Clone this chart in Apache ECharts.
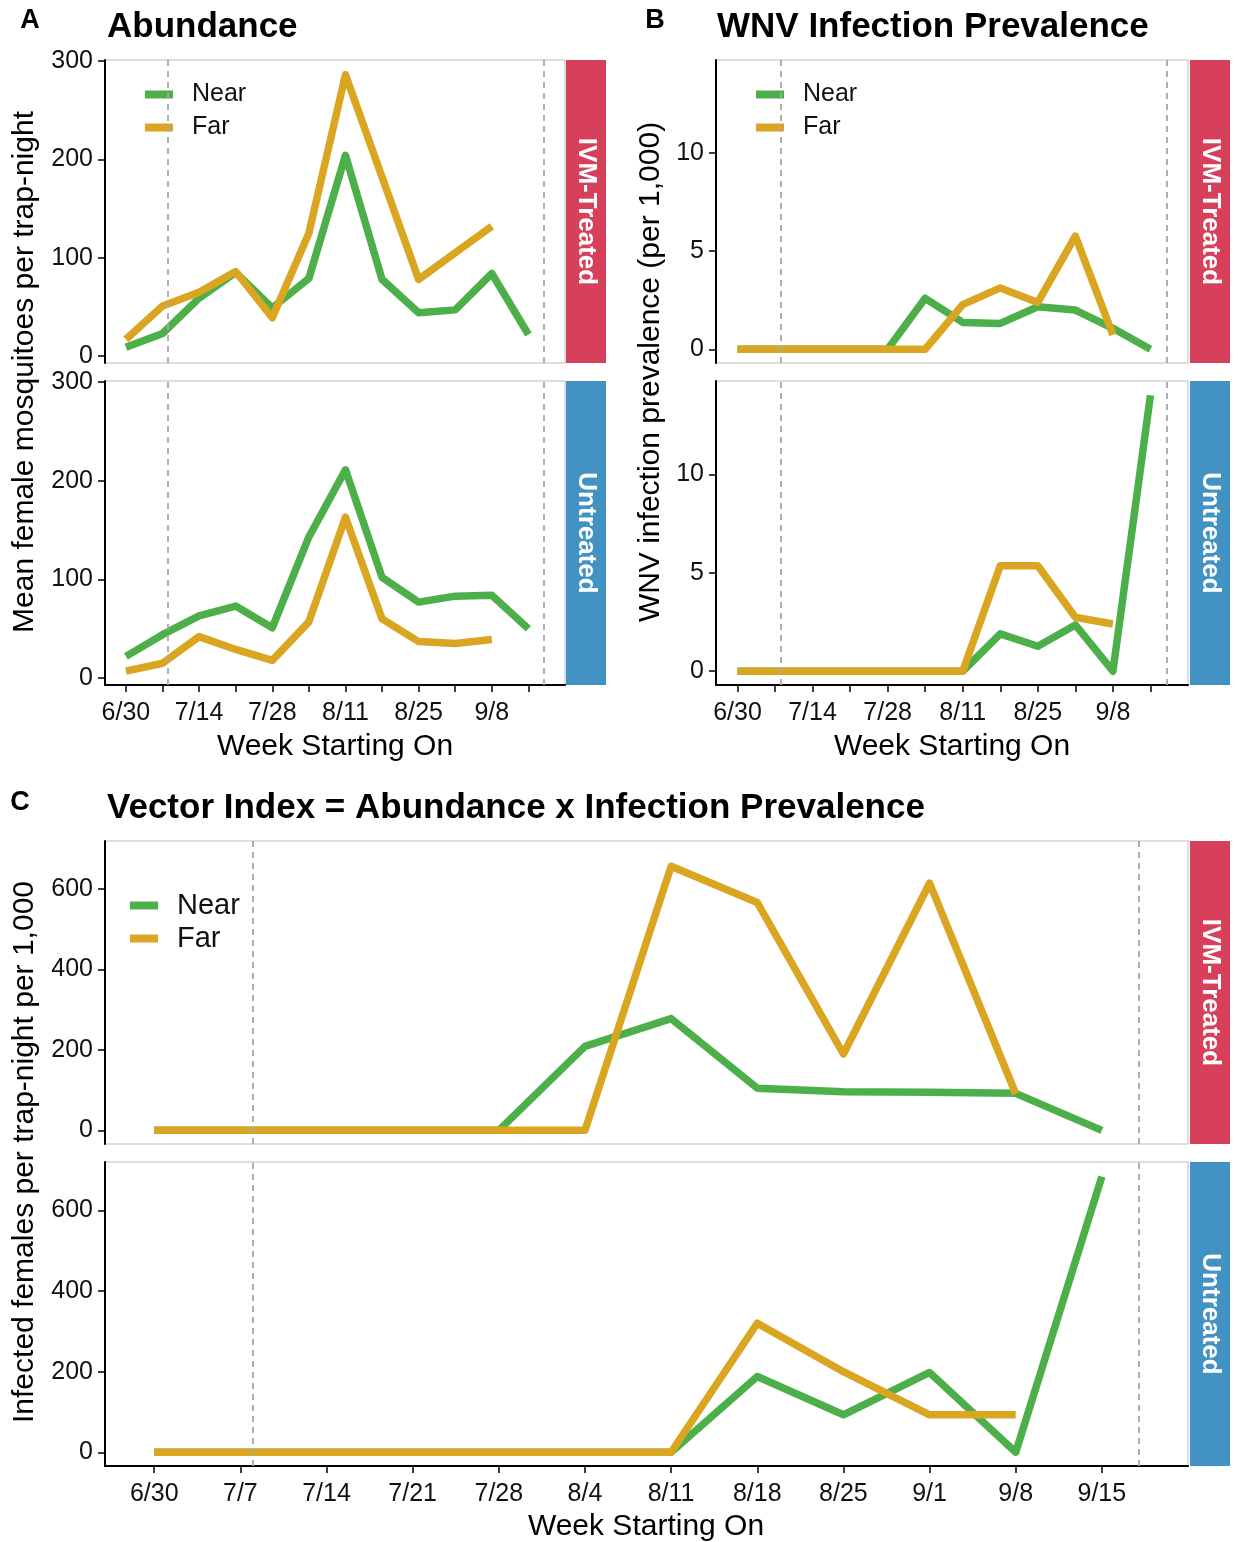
<!DOCTYPE html>
<html>
<head>
<meta charset="utf-8">
<script src="https://cdn.jsdelivr.net/npm/echarts@6/dist/echarts.min.js"></script>
<style>
html,body{margin:0;padding:0;background:#fff;}
#chart{width:1238px;height:1542px;}
</style>
</head>
<body>
<div id="chart"></div>
<script>
// ---- data ----
const weeks = ['6/30','7/7','7/14','7/21','7/28','8/4','8/11','8/18','8/25','9/1','9/8','9/15'];
const seriesNames = ['Near','Far'];
const facetNames = ['IVM-Treated','Untreated'];
const refDays = [8, 80]; // dashed reference lines (days after 6/30)

const abundTreatedNear   = [9, 23, 59, 85, 49, 79, 204, 78, 44, 47, 84, 22];
const abundTreatedFar    = [17, 51, 65, 86, 39, 125, 286, 182, 78, 105, 132, null];
const abundUntreatedNear = [22, 44, 63, 73, 51, 143, 211, 102, 77, 83, 84, 50];
const abundUntreatedFar  = [7, 15, 42, 29, 18, 57, 163, 60, 37, 35, 39, null];

const prevTreatedNear    = [0, 0, 0, 0, 0, 2.6, 1.37, 1.32, 2.17, 2.0, 1.07, 0];
const prevTreatedFar     = [0, 0, 0, 0, 0, 0, 2.28, 3.13, 2.39, 5.77, 0.73, null];
const prevUntreatedNear  = [0, 0, 0, 0, 0, 0, 0, 1.9, 1.27, 2.35, 0, 14.03];
const prevUntreatedFar   = [0, 0, 0, 0, 0, 0, 0, 5.36, 5.36, 2.74, 2.4, null];

const vecTreatedNear     = [0, 0, 0, 0, 0, 209, 278, 105, 96, 95, 92, 0];
const vecTreatedFar      = [0, 0, 0, 0, 0, 0, 657, 567, 190, 615, 91, null];
const vecUntreatedNear   = [0, 0, 0, 0, 0, 0, 0, 188, 93, 198, 0, 684];
const vecUntreatedFar    = [0, 0, 0, 0, 0, 0, 0, 320, 200, 93, 93, null];

const abundTicks = [0, 100, 200, 300];
const prevTicks  = [0, 5, 10];
const vecTicks   = [0, 200, 400, 600];

// ---- style ----
const FONT = '"Liberation Sans", Arial, sans-serif';
const GREEN = '#4DAF4A', GOLD = '#DAA520';
const RED = '#D7405A', BLUE = '#4292C4';
const TXT = '#111';

const allWeekVals = weeks.map((w, i) => i * 7);
const everyOther = allWeekVals.filter((v, i) => i % 2 === 0 && i < 11);

function toXY(arr) {
  const out = [];
  arr.forEach((v, i) => { if (v !== null) out.push([i * 7, v]); });
  return out;
}

const grids = [
  {left: 105, top: 60,   width: 460,  height: 303},
  {left: 105, top: 381,  width: 460,  height: 304},
  {left: 716, top: 60,   width: 472,  height: 303},
  {left: 716, top: 381,  width: 472,  height: 304},
  {left: 105, top: 841,  width: 1083, height: 303},
  {left: 105, top: 1162, width: 1083, height: 304}
].map(g => Object.assign({show: true, borderColor: '#d4d4d4', borderWidth: 1.5, backgroundColor: '#fff', containLabel: false, outerBoundsMode: 'none'}, g));

function xAxis(gi, bottom, labelVals) {
  return {
    type: 'value', gridIndex: gi, min: -4, max: 84,
    splitLine: {show: false},
    axisLine: {show: bottom, onZero: false, lineStyle: {color: '#000', width: 2}},
    axisTick: {show: bottom, length: 7, lineStyle: {color: '#000', width: 1.5}, customValues: allWeekVals},
    axisLabel: {show: bottom, customValues: labelVals, margin: 16, color: TXT, fontSize: 25, fontFamily: FONT,
      formatter: v => weeks[Math.round(v / 7)]}
  };
}
function yAxis(gi, min, max, ticks) {
  return {
    type: 'value', gridIndex: gi, min: min, max: max,
    splitLine: {show: false},
    axisLine: {show: true, onZero: false, lineStyle: {color: '#000', width: 2}},
    axisTick: {show: true, length: 7, lineStyle: {color: '#000', width: 1.5}, customValues: ticks},
    axisLabel: {show: true, customValues: ticks, margin: 12, color: TXT, fontSize: 25, fontFamily: FONT}
  };
}

const xAxes = [
  xAxis(0, false, everyOther), xAxis(1, true, everyOther),
  xAxis(2, false, everyOther), xAxis(3, true, everyOther),
  xAxis(4, false, allWeekVals), xAxis(5, true, allWeekVals)
];
const yAxes = [
  yAxis(0, -7, 301, abundTicks), yAxis(1, -7, 301, abundTicks),
  yAxis(2, -0.7, 14.75, prevTicks), yAxis(3, -0.7, 14.75, prevTicks),
  yAxis(4, -34, 720, vecTicks), yAxis(5, -34, 720, vecTicks)
];

const panelData = [
  [abundTreatedNear, abundTreatedFar],
  [abundUntreatedNear, abundUntreatedFar],
  [prevTreatedNear, prevTreatedFar],
  [prevUntreatedNear, prevUntreatedFar],
  [vecTreatedNear, vecTreatedFar],
  [vecUntreatedNear, vecUntreatedFar]
];

const series = [];
panelData.forEach((pair, gi) => {
  series.push({
    type: 'line', xAxisIndex: gi, yAxisIndex: gi, data: [], silent: true, z: 1,
    markLine: {
      silent: true, symbol: ['none', 'none'], label: {show: false},
      lineStyle: {color: '#a8a8a8', width: 1.8, type: [6, 5]},
      emphasis: {disabled: true},
      data: refDays.map(d => ({xAxis: d}))
    }
  });
  pair.forEach((arr, si) => {
    series.push({
      name: seriesNames[si], type: 'line', xAxisIndex: gi, yAxisIndex: gi,
      data: toXY(arr), showSymbol: false, symbol: 'none', z: 3 + si,
      color: si === 0 ? GREEN : GOLD,
      lineStyle: {width: 7.5, color: si === 0 ? GREEN : GOLD, cap: 'butt', join: 'round'},
      emphasis: {disabled: true}
    });
  });
});

function legend(left, top, fs, lh, gap) {
  return {
    data: seriesNames, orient: 'vertical', left: left, top: top, padding: 0,
    icon: 'rect', itemWidth: 28, itemHeight: 8, itemGap: gap,
    selectedMode: false,
    textStyle: {fontSize: fs, lineHeight: lh, color: TXT, fontFamily: FONT, padding: [0, 0, 0, 14]}
  };
}

function strip(x, y, h, color, label) {
  return [
    {type: 'rect', shape: {x: x, y: y, width: 40, height: h}, style: {fill: color}, z: 10},
    {type: 'text', x: x + 20, y: y + h / 2, rotation: -Math.PI / 2, z: 11,
      style: {text: label, fill: '#fff', font: 'bold 26px ' + FONT, align: 'center', verticalAlign: 'middle'}}
  ];
}
function txt(x, y, text, font, align, rot) {
  return {type: 'text', x: x, y: y, rotation: rot || 0, z: 11,
    style: {text: text, fill: '#000', font: font, align: align || 'left', verticalAlign: 'middle'}};
}

const graphics = [].concat(
  strip(566, 60, 303, RED, facetNames[0]),
  strip(566, 381, 304, BLUE, facetNames[1]),
  strip(1190, 60, 303, RED, facetNames[0]),
  strip(1190, 381, 304, BLUE, facetNames[1]),
  strip(1190, 841, 303, RED, facetNames[0]),
  strip(1190, 1162, 304, BLUE, facetNames[1]),
  [
    txt(30, 21, 'A', 'bold 27px ' + FONT, 'center'),
    txt(655, 21, 'B', 'bold 27px ' + FONT, 'center'),
    txt(20, 803, 'C', 'bold 27px ' + FONT, 'center'),
    txt(107, 27, 'Abundance', 'bold 35px ' + FONT),
    txt(717, 27, 'WNV Infection Prevalence', 'bold 35px ' + FONT),
    txt(107, 808, 'Vector Index = Abundance x Infection Prevalence', 'bold 35px ' + FONT),
    txt(335, 747, 'Week Starting On', '30px ' + FONT, 'center'),
    txt(952, 747, 'Week Starting On', '30px ' + FONT, 'center'),
    txt(646, 1527, 'Week Starting On', '30px ' + FONT, 'center'),
    txt(25, 372, 'Mean female mosquitoes per trap-night', '30px ' + FONT, 'center', Math.PI / 2),
    txt(651, 372, 'WNV infection prevalence (per 1,000)', '30px ' + FONT, 'center', Math.PI / 2),
    txt(25, 1152, 'Infected females per trap-night per 1,000', '30px ' + FONT, 'center', Math.PI / 2)
  ]
);

const chart = echarts.init(document.getElementById('chart'), null, {renderer: 'canvas'});
chart.setOption({
  animation: false,
  backgroundColor: '#fff',
  textStyle: {fontFamily: FONT},
  grid: grids,
  xAxis: xAxes,
  yAxis: yAxes,
  legend: [
    legend(145, 82, 25, 25, 8),
    legend(756, 82, 25, 25, 8),
    legend(130, 891, 29, 29, 4)
  ],
  series: series,
  graphic: graphics
});
</script>
</body>
</html>
